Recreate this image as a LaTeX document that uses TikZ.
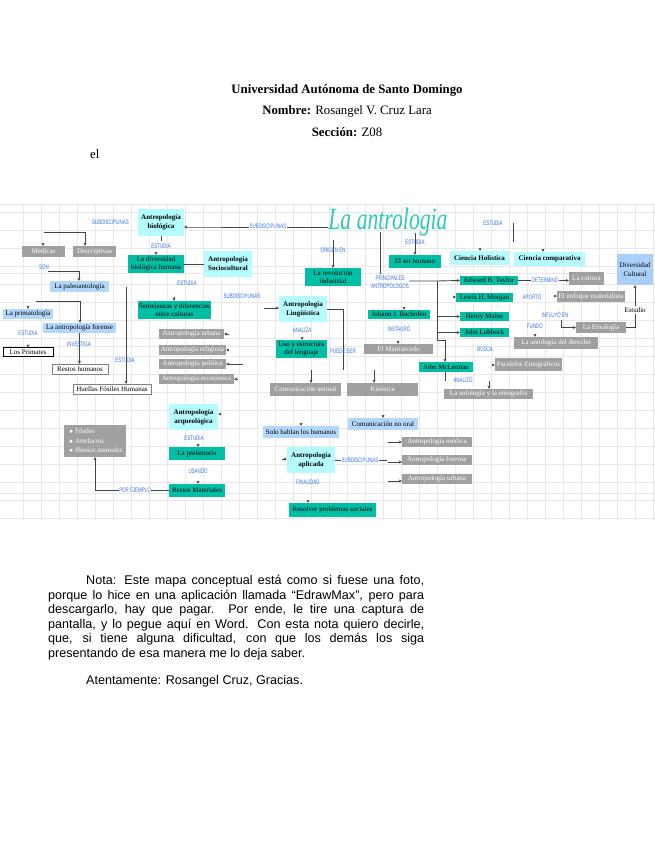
\documentclass[tikz,border=0pt]{standalone}
\usepackage{fontspec}
\setmainfont{Liberation Serif}
\setsansfont{Liberation Sans}
\usetikzlibrary{arrows.meta}
\definecolor{tealbox}{HTML}{00BFA5}
\definecolor{cyanbox}{HTML}{B5FCFF}
\definecolor{paleblue}{HTML}{B3D7FB}
\definecolor{midblue}{HTML}{A8D0F8}
\definecolor{grayfill}{HTML}{A0A0A0}
\definecolor{labelblue}{HTML}{2F70E4}
\definecolor{gridgray}{HTML}{E8E8E8}
\definecolor{scripttitle}{HTML}{2CC9B5}
\definecolor{linkgray}{HTML}{444444}
\tikzset{
	size/.style 2 args={minimum width=#1pt,minimum height=#2pt,inner sep=0pt,align=center},
	conceptfont/.style={font=\fontsize{7}{8.5}\selectfont},
	tealnode/.style={fill=tealbox,text=black,conceptfont},
	cyannode/.style={fill=cyanbox,text=black,font=\bfseries\fontsize{7}{9}\selectfont},
	palenode/.style={fill=paleblue,text=black,conceptfont},
	graynode/.style={fill=grayfill,text=white,conceptfont},
	plainnode/.style={fill=white,text=black,conceptfont},
	linklabel/.style={text=labelblue,font=\sffamily\fontsize{6.5}{8.5}\selectfont,xscale=.68,transform shape,inner sep=1pt,align=center},
	link/.style={draw=linkgray,line width=.9pt},
	tip/.style={-{Stealth[length=3pt,width=3pt]}},
	gridline/.style={draw=gridgray,line width=.7pt},
	headline/.style={font=\fontsize{12.8}{15}\selectfont}
}
\begin{document}
\begin{tikzpicture}[x=1pt,y=-1pt]
	\useasboundingbox (0,0) rectangle (655,848);
	\fill[white] (0,0) rectangle (655,848);

	\foreach \gx in {23,41,59,77,95,113,131,149,167,185,203,221,239,257,275,293,311,329,347,365,383,401,419,437,455,473,491,509,527,545,563,581,599,617,635,653}
		\draw[gridline] (\gx,204) -- (\gx,520);
	\foreach \gy in {212,230,248,266,284,302,320,338,356,374,392,410,428,446,464,482,500,518}
		\draw[gridline] (0,\gy) -- (655,\gy);
	\draw[draw=gridgray,line width=1pt] (0,273) -- (655,273);
	\draw[draw=gridgray,line width=1pt] (0,346) -- (655,346);
	\draw[draw=gridgray,line width=1pt] (0,493) -- (655,493);
	\draw[draw=gridgray,line width=1pt] (0,204) -- (655,204);

	\node[headline,font=\bfseries\fontsize{12.8}{15}\selectfont] (uni) at (347,90) {Universidad Autónoma de Santo Domingo};
	\node[headline] (nombre) at (347,111) {\textbf{Nombre:} Rosangel V. Cruz Lara};
	\node[headline] (seccion) at (347,132) {\textbf{Sección:} Z08};
	\node[headline,anchor=west,inner sep=0pt] (el) at (90,154) {el};

	\node[text=scripttitle,font=\itshape\fontsize{31}{31}\selectfont,inner sep=0pt,xscale=.7,transform shape] (tema) at (388,222) {La antrologia};

	\node[cyannode,size={46}{27}] (biologica) at (161,222.5) {Antropología\\biológica};
	\node[cyannode,size={48}{26}] (socio) at (228,264) {Antropología\\Sociocultural};
	\node[cyannode,size={48}{26}] (linguistica) at (303,309) {Antropología\\Lingüística};
	\node[cyannode,size={49}{26}] (arqueo) at (193.5,417) {Antropología\\arqueológica};
	\node[cyannode,size={48}{26}] (aplicada) at (311,460) {Antropología\\aplicada};
	\node[cyannode,size={59}{14}] (holistica) at (479.5,258) {Ciencia Holística};
	\node[cyannode,size={71}{14}] (comparativa) at (549.5,259) {Ciencia comparativa};

	\node[tealnode,size={56}{18}] (diversidad) at (156,264) {La diversidad\\biológica humana};
	\node[tealnode,size={73}{18}] (semejanzas) at (174.5,310) {Semejanzas y diferencias\\entre culturas};
	\node[tealnode,size={56}{18}] (revolucion) at (333,277) {La revolución\\industrial};
	\node[tealnode,size={52}{13}] (serhumano) at (415,261.5) {El ser humano};
	\node[tealnode,size={51}{18}] (lenguaje) at (301.5,349) {Uso y estructura\\del lenguaje};
	\node[tealnode,size={58}{9}] (tylor) at (489,280.5) {Edward B. Taylor};
	\node[tealnode,size={57}{9}] (morgan) at (484.5,297.5) {Lewis H. Morgan};
	\node[tealnode,size={49}{9}] (maine) at (484.5,316.5) {Henry Maine};
	\node[tealnode,size={49}{9}] (lubbock) at (484.5,332.5) {John Lubbock};
	\node[tealnode,size={62}{9}] (bachofen) at (399,314.5) {Johann J. Bachofen};
	\node[tealnode,size={54}{10}] (mclennan) at (446,367) {John McLennan};
	\node[tealnode,size={56}{13}] (prehistoria) at (197,453.5) {La prehistoria};
	\node[tealnode,size={56}{13}] (materiales) at (197,490.5) {Restos Materiales};
	\node[tealnode,size={87}{14}] (sociales) at (332.5,510) {Resolver problemas sociales};

	\node[palenode,size={59}{11}] (paleo) at (79.5,286.5) {La paleoantología};
	\node[palenode,size={50}{10}] (primato) at (28,314) {La primatología};
	\node[palenode,size={73}{10}] (forense) at (79.5,328) {La antropología forense};
	\node[palenode,size={76}{12}] (hablan) at (301,432) {Solo hablan los humanos};
	\node[palenode,size={70}{12}] (nooral) at (383,424) {Comunicación no oral};
	\node[fill=midblue,text=black,conceptfont,size={36}{31}] (cultural) at (635,269.5) {Diversidad\\Cultural};

	\node[graynode,size={43}{11}] (medicas) at (43.5,251.5) {Médicas};
	\node[graynode,size={43}{11}] (descriptivas) at (94.5,251.5) {Descriptivas};
	\node[graynode,size={65}{10}] (urbana) at (191.5,334) {Antropología urbana};
	\node[graynode,size={67}{10}] (religiosa) at (192.5,350) {Antropología religiosa};
	\node[graynode,size={67}{10}] (politica) at (192.5,364) {Antropología política};
	\node[graynode,size={75}{10}] (economica) at (196.5,379) {Antropología económica};
	\node[fill=grayfill,minimum width=62pt,minimum height=32pt,inner sep=0pt] (hallazgos) at (95,441) {};
	\node[text=white,conceptfont,inner sep=0pt,align=left,anchor=west] (hallazgostext) at (69,441) {$\bullet$ Fósiles\\[1pt]$\bullet$ Artefactos\\[1pt]$\bullet$ Huesos animales};
	\node[graynode,size={71}{13}] (animal) at (305.5,389.5) {Comunicación animal};
	\node[graynode,size={71}{13}] (kinesica) at (382.5,389.5) {Kinésica};
	\node[graynode,size={69}{10}] (matriarcado) at (398.5,349) {El Matriarcado};
	\node[graynode,size={35}{13}] (lacultura) at (586.5,278.5) {La cultura};
	\node[graynode,size={68}{11}] (enfoque) at (591,296.5) {El enfoque materialista};
	\node[graynode,size={50}{11}] (etnologia) at (601,327.5) {La Etnología};
	\node[graynode,size={84}{12}] (derecho) at (556,343) {La antología del derecho};
	\node[graynode,size={67}{13}] (paralelos) at (528.5,364.5) {Paralelos Etnográficos};
	\node[graynode,size={89}{10}] (etnografia) at (488.5,394) {La antología y la etnografía};
	\node[graynode,size={70}{10}] (medica) at (437,442) {Antropología médica};
	\node[graynode,size={70}{10}] (aforense) at (437,460) {Antropología forense};
	\node[graynode,size={70}{10}] (aurbana) at (437,479) {Antropología urbana};

	\node[plainnode,draw=black,size={50}{9}] (primates) at (28,352) {Los Primates};
	\node[plainnode,draw=gray,line width=.4pt,size={56}{10}] (humanos) at (80,369) {Restos humanos};
	\node[plainnode,draw=gray,line width=.4pt,size={78}{10}] (huellas) at (112,389) {Huellas Fósiles Humanas};
	\node[plainnode,inner sep=1pt] (estudio) at (635,310) {Estudio};

	\coordinate (subdivB) at (222,227);
	\coordinate (raizA) at (44,232);
	\coordinate (raizB) at (48,271);
	\coordinate (raizC) at (36,301);
	\coordinate (raizD) at (126,287);
	\coordinate (raizE) at (333,240);
	\coordinate (raizF) at (415,233);
	\coordinate (raizG) at (380,232);
	\coordinate (raizH) at (380,274);
	\coordinate (raizI) at (513,223);
	\coordinate (raizJ) at (513,242);
	\coordinate (raizK) at (264,308);
	\coordinate (raizL) at (243,364);
	\coordinate (raizM) at (343,370);
	\coordinate (raizN) at (311,370);
	\coordinate (raizO) at (374,370);
	\coordinate (raizP) at (489,381);
	\coordinate (raizQ) at (445,381);
	\coordinate (raizR) at (161,241);
	\coordinate (tronco) at (409,281);
	\coordinate (troncoA) at (437,281);
	\coordinate (troncoB) at (437,340);
	\coordinate (troncoC) at (445,340);
	\coordinate (ramaA) at (387,460);
	\coordinate (ramaB) at (388,442);
	\coordinate (ramaC) at (388,462);
	\coordinate (ramaD) at (388,481);
	\coordinate (hilera) at (561,320);
	\coordinate (puntaA) at (28,306);
	\coordinate (puntaB) at (43,243);
	\coordinate (puntaC) at (156,252);
	\coordinate (puntaD) at (174,297);
	\coordinate (puntaE) at (404,307);
	\coordinate (puntaF) at (398,341);
	\coordinate (puntaG) at (28,345);
	\coordinate (puntaI) at (198,444);
	\coordinate (puntaJ) at (198,481);
	\coordinate (puntaK) at (301,423);
	\coordinate (puntaL) at (383,415);
	\coordinate (puntaM) at (308,500);
	\coordinate (puntaN) at (535,334);
	\coordinate (puntaO) at (480,249);
	\coordinate (puntaP) at (543,249);
	\coordinate (puntaQ) at (302,337);
	\coordinate (puntaR) at (229,334);
	\coordinate (puntaS) at (229,350);
	\coordinate (puntaT) at (238,379);
	\coordinate (puntaU) at (220,414);
	\coordinate (puntaV) at (282,459);
	\coordinate (puntaW) at (453,297);
	\coordinate (puntaX) at (554,296);
	\coordinate (puntaY) at (492,365);
	\coordinate (puntaZ) at (186,227);

	\draw[link,tip] (subdivB) -- (puntaZ) -- (biologica.east |- puntaZ);
	\draw[link] (subdivB) -- (tema.west |- subdivB);
	\draw[link] (biologica.south) -- (raizR);
	\draw[link,tip] (raizA) -- (85,232) -- (85,232 |- descriptivas.north);
	\draw[link,tip] (raizB) -- (79,271) -- (79,271 |- paleo.north);
	\draw[link,tip] (raizC) -- (80,301) -- (80,301 |- forense.north);
	\draw[link,tip] (forense.south) -- (forense.south |- humanos.north);
	\draw[link,tip] (raizD) -- (raizD |- huellas.north);
	\draw[link] (socio.west) -- (diversidad.east);
	\draw[link,tip] (raizE) -- (raizE |- revolucion.north);
	\draw[link,tip] (raizF) -- (raizF |- serhumano.north);
	\draw[link] (raizG) -- (raizH);
	\draw[link] (raizI) -- (raizJ);
	\draw[link,tip] (raizK) -- (linguistica.west |- raizK);
	\draw[link] (linguistica.east) -- (343,309) -- (raizM);
	\draw[link,tip] (raizL) -- (politica.east);
	\draw[link,tip] (raizN) -- (raizN |- animal.north);
	\draw[link,tip] (raizO) -- (raizO |- kinesica.north);
	\draw[link,tip] (raizP) -- (raizP |- etnografia.north);
	\draw[link] (mclennan.south -| raizQ) -- (raizQ);
	\draw[link,tip] (tronco) -- (troncoA) -- (tylor.west);
	\draw[link] (troncoA) -- (troncoB);
	\draw[link,tip] (troncoA |- maine.west) -- (maine.west);
	\draw[link,tip] (troncoA |- lubbock.west) -- (lubbock.west);
	\draw[link,tip] (troncoB) -- (troncoC) -- (troncoC |- mclennan.north);
	\draw[link,tip] (tylor.east) -- (lacultura.west |- tylor.east);
	\draw[link,tip] (hilera) -- (hilera |- etnologia.west) -- (etnologia.west);
	\draw[link] (etnologia.east) -- (estudio.south |- etnologia.east) -- (estudio.south);
	\draw[link,tip] (estudio.north) -- (cultural.south);
	\draw[link] (aplicada.east) -- (ramaA);
	\draw[link,tip] (ramaB) -- (medica.west |- ramaB);
	\draw[link,tip] (ramaC) -- (aforense.west |- ramaC);
	\draw[link,tip] (ramaD) -- (aurbana.west |- ramaD);
	\draw[link,tip] (materiales.west) -- (95,490.5) -- (hallazgos.south);

	\draw[link,tip] (puntaA) -- (primato.north -| puntaA);
	\draw[link,tip] (puntaB) -- (medicas.north -| puntaB);
	\draw[link,tip] (puntaC) -- (diversidad.north -| puntaC);
	\draw[link,tip] (puntaD) -- (semejanzas.north -| puntaD);
	\draw[link,tip] (puntaE) -- (bachofen.north -| puntaE);
	\draw[link,tip] (puntaF) -- (matriarcado.north -| puntaF);
	\draw[link,tip] (puntaG) -- (primates.north -| puntaG);
	\draw[link,tip] (puntaI) -- (prehistoria.north -| puntaI);
	\draw[link,tip] (puntaJ) -- (materiales.north -| puntaJ);
	\draw[link,tip] (puntaK) -- (hablan.north -| puntaK);
	\draw[link,tip] (puntaL) -- (nooral.north -| puntaL);
	\draw[link,tip] (puntaM) -- (sociales.north -| puntaM);
	\draw[link,tip] (puntaN) -- (derecho.north -| puntaN);
	\draw[link,tip] (puntaO) -- (holistica.north -| puntaO);
	\draw[link,tip] (puntaP) -- (comparativa.north -| puntaP);
	\draw[link,tip] (puntaQ) -- (lenguaje.north -| puntaQ);
	\draw[link,tip] (puntaR) -- (urbana.east |- puntaR);
	\draw[link,tip] (puntaS) -- (religiosa.east |- puntaS);
	\draw[link,tip] (puntaT) -- (economica.east |- puntaT);
	\draw[link,tip] (puntaU) -- (arqueo.east |- puntaU);
	\draw[link,tip] (puntaV) -- (aplicada.west |- puntaV);
	\draw[link,tip] (puntaW) -- (morgan.west |- puntaW);
	\draw[link,tip] (puntaX) -- (enfoque.west |- puntaX);
	\draw[link,tip] (puntaY) -- (paralelos.west |- puntaY);

	\node[linklabel] (sub1) at (110.5,222) {SUBDISCIPLINAS};
	\node[linklabel,fill=white] (sub2) at (268,226) {SUBDISCIPLINAS};
	\node[linklabel] (sub3) at (242,296) {SUBDISCIPLINAS};
	\node[linklabel,fill=white] (sub4) at (360,460) {SUBDISCIPLINAS};
	\node[linklabel] (est1) at (161,246) {ESTUDIA};
	\node[linklabel] (est2) at (187,283) {ESTUDIA};
	\node[linklabel] (est3) at (28,333) {ESTUDIA};
	\node[linklabel] (est4) at (125,360) {ESTUDIA};
	\node[linklabel] (est5) at (194,438) {ESTUDIA};
	\node[linklabel] (est6) at (415,242) {ESTUDIA};
	\node[linklabel] (est7) at (493,223) {ESTUDIA};
	\node[linklabel] (son) at (44,267) {SON};
	\node[linklabel] (investiga) at (79,344) {INVESTIGA};
	\node[linklabel] (usando) at (198,471) {USANDO};
	\node[linklabel,fill=white] (ejemplo) at (135,490) {POR EJEMPLO};
	\node[linklabel] (origen) at (333,250) {ORIGEN EN};
	\node[linklabel,align=center] (principales) at (390,282.5) {PRINCIPALES\\ANTROPÓLOGOS};
	\node[linklabel] (analiza) at (302,330) {ANALIZA};
	\node[linklabel] (puede) at (343,351) {PUEDE SER};
	\node[linklabel] (instauro) at (399,329) {INSTAURÓ};
	\node[linklabel,fill=white] (determino) at (545,280) {DETERMINÓ};
	\node[linklabel] (aporto) at (532,297) {APORTÓ};
	\node[linklabel] (influyo) at (555,315) {INFLUYÓ EN};
	\node[linklabel] (fundo) at (535,326) {FUNDÓ};
	\node[linklabel] (busca) at (485,349) {BUSCA};
	\node[linklabel] (analizo) at (463,380) {ANALIZÓ};
	\node[linklabel] (finalidad) at (308,482) {FINALIDAD};

	\node[font=\sffamily\fontsize{12.6}{14.6}\selectfont,text width=376pt,inner sep=0pt,align=justify,anchor=north west] (nota) at (48,575) {\hspace*{38pt}Nota: Este mapa conceptual está como si fuese una foto,\linebreak porque lo hice en una aplicación llamada ``EdrawMax'', pero para\linebreak descargarlo, hay que pagar. Por ende, le tire una captura de\linebreak pantalla, y lo pegue aquí en Word. Con esta nota quiero decirle,\linebreak que, si tiene alguna dificultad, con que los demás los siga\linebreak presentando de esa manera me lo deja saber.};
	\node[font=\sffamily\fontsize{12.6}{14.6}\selectfont,inner sep=0pt,anchor=west] (atentamente) at (86,681) {Atentamente: Rosangel Cruz, Gracias.};
\end{tikzpicture}
\end{document}
